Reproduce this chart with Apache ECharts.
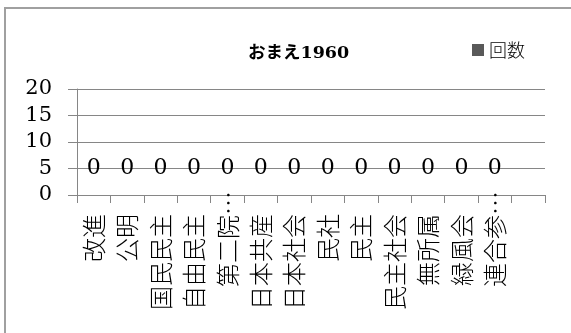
<!DOCTYPE html>
<html>
<head>
<meta charset="utf-8">
<script src="https://cdn.jsdelivr.net/npm/echarts@6/dist/echarts.min.js"></script>
<style>
html,body{margin:0;padding:0;background:#fff;}
#chart{width:571px;height:333px;}
</style>
</head>
<body>
<div id="chart"></div>
<script>
var titleText = 'おまえ1960';
var seriesName = '回数';
var categories = ['改進','公明','国民民主','自由民主','第二院…','日本共産','日本社会','民社','民主','民主社会','無所属','緑風会','連合参…',''];
var values = [0,0,0,0,0,0,0,0,0,0,0,0,0,'-'];
var yTicks = [0,5,10,15,20];

var chart = echarts.init(document.getElementById('chart'), null, {renderer:'canvas'});
var serif = '"DejaVu Serif", "Liberation Serif", serif';
var cjk = '"Noto Sans CJK JP", sans-serif';

function catLabel(v){
  if(!v) return '';
  return (v.indexOf('…') >= 0 ? '{t|' : '{n|') + v + '}';
}

chart.setOption({
  animation:false,
  backgroundColor:'#fff',
  title:{
    text:titleText,
    left:243, top:40,
    textStyle:{fontFamily:'"DejaVu Serif", "Noto Sans CJK JP", serif', fontWeight:'bold', fontSize:17.5, color:'#000'}
  },
  legend:{
    data:[seriesName],
    left:472, top:41, padding:0,
    icon:'rect', itemWidth:12, itemHeight:12,
    textStyle:{fontFamily:cjk, fontSize:18, color:'#000', fontWeight:300}
  },
  graphic:[{
    type:'rect',
    shape:{x:5, y:8, width:640, height:420},
    style:{fill:'none', stroke:'#a0a0a0', lineWidth:2},
    silent:true
  }],
  grid:{left:77, right:26, top:89, bottom:138, containLabel:false},
  xAxis:{
    type:'category',
    data:categories,
    axisLine:{lineStyle:{color:'#868686', width:1}},
    axisTick:{show:true, length:8, lineStyle:{color:'#868686'}},
    axisLabel:{
      interval:0, margin:-4, rotate:90,
      formatter:catLabel,
      fontFamily:cjk, fontSize:24, color:'#000', fontWeight:300,
      rich:{
        n:{fontFamily:cjk, fontSize:24, fontWeight:300, color:'#000', padding:[0,23,0,0]},
        t:{fontFamily:cjk, fontSize:24, fontWeight:300, color:'#000', padding:[0,0,0,0]}
      }
    }
  },
  yAxis:{
    type:'value',
    min:0, max:20, interval:5,
    axisLine:{show:true, lineStyle:{color:'#868686', width:1}},
    axisTick:{show:true, inside:false, length:9, lineStyle:{color:'#868686'}},
    splitLine:{show:true, lineStyle:{color:'#868686', width:1}},
    axisLabel:{margin:25, fontFamily:serif, fontSize:21, color:'#000',
      formatter:function(v){ return yTicks.indexOf(v)>=0 ? String(v) : ''; }}
  },
  series:[{
    name:seriesName,
    type:'bar',
    data:values,
    barWidth:'55%',
    itemStyle:{color:'#595959'},
    label:{show:true, position:'top', distance:16, fontFamily:serif, fontSize:22, color:'#000',
      formatter:function(p){ return String(p.value); }}
  }]
});
</script>
</body>
</html>
